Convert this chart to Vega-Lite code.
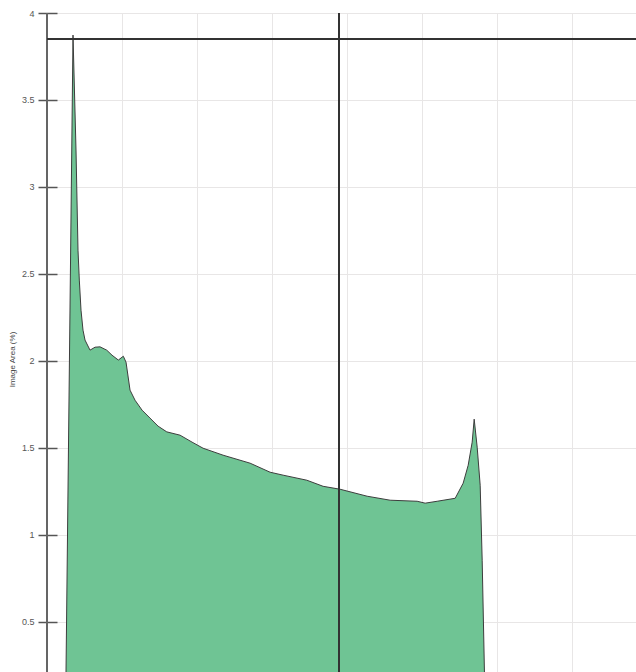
{
  "$schema": "https://vega.github.io/schema/vega-lite/v6.json",
  "width": 589,
  "height": 659,
  "autosize": {"type": "none"},
  "padding": {"left": 47, "top": 13, "right": 0, "bottom": 0},
  "background": "white",
  "config": {
    "view": {"stroke": null},
    "font": "Liberation Sans"
  },
  "data": {
    "values": [
      {"x": 2.48, "v": 0.0},
      {"x": 3.467, "v": 3.873},
      {"x": 3.867, "v": 3.212},
      {"x": 4.133, "v": 2.636},
      {"x": 4.307, "v": 2.464},
      {"x": 4.533, "v": 2.291},
      {"x": 4.8, "v": 2.176},
      {"x": 5.067, "v": 2.119},
      {"x": 5.733, "v": 2.061},
      {"x": 6.4, "v": 2.078},
      {"x": 7.067, "v": 2.08},
      {"x": 7.96, "v": 2.061},
      {"x": 8.667, "v": 2.032},
      {"x": 9.507, "v": 2.004},
      {"x": 10.173, "v": 2.026},
      {"x": 10.533, "v": 1.992},
      {"x": 11.067, "v": 1.831},
      {"x": 11.733, "v": 1.773},
      {"x": 12.667, "v": 1.716},
      {"x": 13.733, "v": 1.67},
      {"x": 14.8, "v": 1.624},
      {"x": 15.96, "v": 1.591},
      {"x": 17.733, "v": 1.572},
      {"x": 19.333, "v": 1.532},
      {"x": 20.8, "v": 1.497},
      {"x": 23.467, "v": 1.457},
      {"x": 27.067, "v": 1.411},
      {"x": 29.733, "v": 1.359},
      {"x": 31.467, "v": 1.342},
      {"x": 34.627, "v": 1.313},
      {"x": 36.8, "v": 1.278},
      {"x": 39.067, "v": 1.261},
      {"x": 42.667, "v": 1.221},
      {"x": 45.733, "v": 1.198},
      {"x": 49.333, "v": 1.192},
      {"x": 50.4, "v": 1.181},
      {"x": 52.0, "v": 1.192},
      {"x": 54.4, "v": 1.209},
      {"x": 55.467, "v": 1.296},
      {"x": 56.133, "v": 1.399},
      {"x": 56.667, "v": 1.532},
      {"x": 56.933, "v": 1.664},
      {"x": 57.333, "v": 1.503},
      {"x": 57.733, "v": 1.284},
      {"x": 58.0, "v": 0.853},
      {"x": 58.4, "v": 0.0}
    ]
  },
  "layer": [
    {
      "mark": {"type": "area", "clip": true, "color": "#6fc494", "stroke": "#3d3d3d", "strokeWidth": 1, "interpolate": "linear"},
      "encoding": {
        "x": {
          "field": "x", "type": "quantitative",
          "scale": {"domain": [0, 78.5], "nice": false, "zero": false},
          "axis": {"values": [10, 20, 30, 40, 50, 60, 70], "labels": false, "ticks": false, "domain": false, "title": null, "grid": true, "gridColor": "#e8e6e6", "gridWidth": 1}
        },
        "y": {
          "field": "v", "type": "quantitative",
          "scale": {"domain": [0.21, 4], "nice": false, "zero": false},
          "axis": {
            "values": [0.5, 1, 1.5, 2, 2.5, 3, 3.5, 4],
            "format": "~g",
            "title": "Image Area (%)",
            "titleFontSize": 8, "titleFontWeight": "normal", "titleColor": "#444",
            "titleY": 346, "titlePadding": 5,
            "domain": false,
            "tickSize": 19, "tickColor": "#555", "tickWidth": 1.5,
            "offset": -10,
            "labelFontSize": 9, "labelColor": "#555", "labelPadding": 4,
            "grid": true, "gridColor": "#e8e6e6", "gridWidth": 1
          }
        },
        "y2": {"datum": 0}
      }
    },
    {
      "mark": {"type": "rule", "color": "#666", "strokeWidth": 1.5},
      "encoding": {"x": {"datum": 0}}
    },
    {
      "mark": {"type": "rule", "color": "#333", "strokeWidth": 1.3},
      "encoding": {"y": {"datum": 3.85}}
    },
    {
      "mark": {"type": "rule", "color": "#333", "strokeWidth": 1.3},
      "encoding": {"x": {"datum": 38.9}}
    }
  ]
}
